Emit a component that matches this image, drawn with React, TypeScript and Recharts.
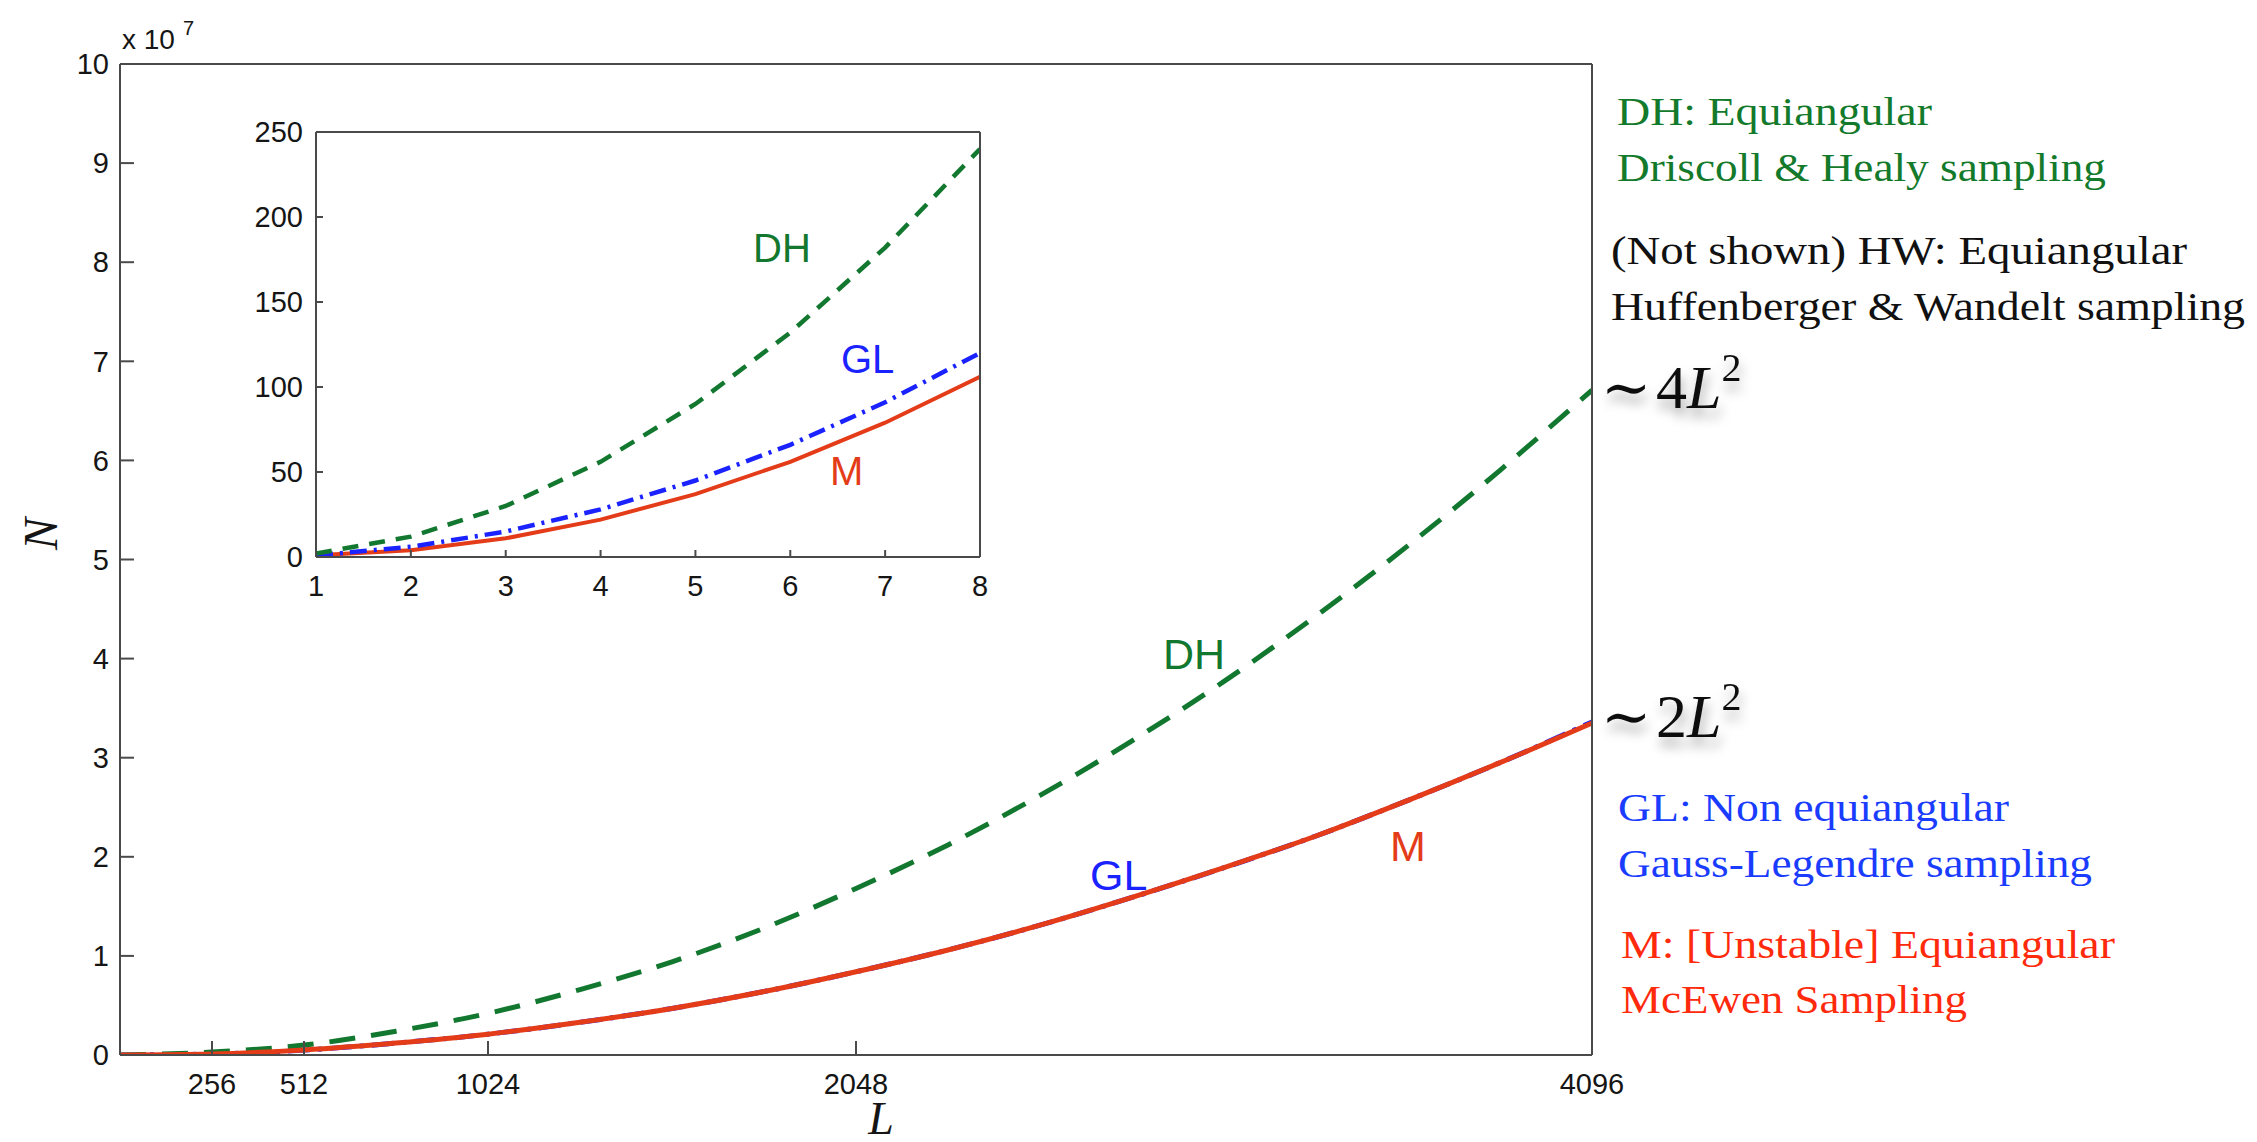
import React from 'react';
import { LineChart, Line, XAxis, YAxis } from 'recharts';

// main plot: number of samples N (units of 1e7) against band-limit L
const L_MAIN = [0, 256, 512, 768, 1024, 1280, 1536, 1792, 2048, 2304, 2560, 2816, 3072, 3328, 3584, 3840, 4096];
const DH_MAIN = [0, 0.03, 0.1, 0.24, 0.42, 0.66, 0.94, 1.28, 1.68, 2.12, 2.62, 3.17, 3.77, 4.43, 5.14, 5.9, 6.71];
const GL_MAIN = [0, 0.01, 0.05, 0.12, 0.21, 0.33, 0.47, 0.64, 0.84, 1.06, 1.31, 1.59, 1.89, 2.21, 2.57, 2.95, 3.36];
const M_MAIN = [0, 0.01, 0.05, 0.12, 0.21, 0.33, 0.47, 0.64, 0.84, 1.06, 1.31, 1.59, 1.89, 2.21, 2.57, 2.95, 3.35];
const MAIN_X_TICKS = [256, 512, 1024, 2048, 4096];
const MAIN_X_TOP_TICKS = [256, 512, 1024, 2048];
const MAIN_Y_TICKS = [0, 1, 2, 3, 4, 5, 6, 7, 8, 9, 10];
const MAIN_Y_RIGHT_TICKS = [1, 2, 3, 4, 5, 6, 7, 8, 9];

// inset: small L
const L_INSET = [1, 2, 3, 4, 5, 6, 7, 8];
const DH_INSET = [2, 12, 30, 56, 90, 132, 182, 240];
const GL_INSET = [1, 6, 15, 28, 45, 66, 91, 120];
const M_INSET = [1, 4, 11, 22, 37, 56, 79, 106];
const INSET_X_TICKS = [1, 2, 3, 4, 5, 6, 7, 8];
const INSET_X_TOP_TICKS = [2, 3, 4, 5, 6, 7];
const INSET_Y_TICKS = [0, 50, 100, 150, 200, 250];
const INSET_Y_RIGHT_TICKS = [50, 100, 150, 200];

const GREEN = '#13782f';
const BLUE = '#1a22ff';
const RED = '#e43c18';
const FRAME = '#4a4a4a';

const sans = 'Liberation Sans, Arial, Helvetica, sans-serif';
const serif = 'Liberation Serif, Times New Roman, serif';

const mainData = L_MAIN.map((L, i) => ({ L, DH: DH_MAIN[i], GL: GL_MAIN[i], M: M_MAIN[i] }));
const insetData = L_INSET.map((L, i) => ({ L, DH: DH_INSET[i], GL: GL_INSET[i], M: M_INSET[i] }));

const axisStroke = { stroke: FRAME, strokeWidth: 2 };
const tickFont = { fontSize: 29, fill: '#151515', fontFamily: sans };

// top/right axes carry only the frame and inward ticks (size 1 so they get drawn)
const MainChart = () => (
  <LineChart width={1700} height={1142} data={mainData} margin={{ top: 63, right: 107, bottom: 47, left: 60 }}>
    <XAxis dataKey="L" type="number" domain={[0, 4096]} ticks={MAIN_X_TICKS} interval={0} height={40}
      tickSize={-14} tickMargin={32} axisLine={axisStroke} tickLine={axisStroke} tick={tickFont} allowDataOverflow />
    <XAxis xAxisId="top" orientation="top" dataKey="L" type="number" domain={[0, 4096]} ticks={MAIN_X_TOP_TICKS} interval={0}
      height={1} tickSize={-14} axisLine={axisStroke} tickLine={axisStroke} tick={false} allowDataOverflow />
    <YAxis type="number" domain={[0, 10]} ticks={MAIN_Y_TICKS} interval={0} width={60}
      tickSize={-14} tickMargin={25} axisLine={axisStroke} tickLine={axisStroke} tick={tickFont} allowDataOverflow />
    <YAxis yAxisId="right" orientation="right" type="number" domain={[0, 10]} ticks={MAIN_Y_RIGHT_TICKS} interval={0}
      width={1} tickSize={-14} axisLine={axisStroke} tickLine={axisStroke} tick={false} allowDataOverflow />
    <Line type="monotone" dataKey="GL" stroke={BLUE} strokeWidth={5} strokeDasharray="22 8 4 8" dot={false} isAnimationActive={false} />
    <Line type="monotone" dataKey="DH" stroke={GREEN} strokeWidth={5} strokeDasharray="26 16" dot={false} isAnimationActive={false} />
    <Line type="monotone" dataKey="M" stroke={RED} strokeWidth={5} dot={false} isAnimationActive={false} />
  </LineChart>
);

const InsetChart = () => (
  <LineChart width={820} height={520} data={insetData} margin={{ top: 31, right: 39, bottom: 23, left: 56 }}>
    <XAxis dataKey="L" type="number" domain={[1, 8]} ticks={INSET_X_TICKS} interval={0} height={40}
      tickSize={-7} tickMargin={25} axisLine={axisStroke} tickLine={axisStroke} tick={tickFont} allowDataOverflow />
    <XAxis xAxisId="top" orientation="top" dataKey="L" type="number" domain={[1, 8]} ticks={INSET_X_TOP_TICKS} interval={0}
      height={1} tickSize={-7} axisLine={axisStroke} tickLine={axisStroke} tick={false} allowDataOverflow />
    <YAxis type="number" domain={[0, 250]} ticks={INSET_Y_TICKS} interval={0} width={60}
      tickSize={-7} tickMargin={20} axisLine={axisStroke} tickLine={axisStroke} tick={tickFont} allowDataOverflow />
    <YAxis yAxisId="right" orientation="right" type="number" domain={[0, 250]} ticks={INSET_Y_RIGHT_TICKS} interval={0}
      width={1} tickSize={-7} axisLine={axisStroke} tickLine={axisStroke} tick={false} allowDataOverflow />
    <Line type="linear" dataKey="M" stroke={RED} strokeWidth={4} dot={false} isAnimationActive={false} />
    <Line type="linear" dataKey="GL" stroke={BLUE} strokeWidth={4.5} strokeDasharray="17 7 3 7" dot={false} isAnimationActive={false} />
    <Line type="linear" dataKey="DH" stroke={GREEN} strokeWidth={4.5} strokeDasharray="16 11" dot={false} isAnimationActive={false} />
  </LineChart>
);

const Note = ({ x, y, w, color, children }: { x: number; y: number; w: number; color: string; children: string }) => (
  <text x={x} y={y} fontFamily={serif} fontSize={41} fill={color} textLength={w} lengthAdjust="spacingAndGlyphs">
    {children}
  </text>
);

const Overlay = () => (
  <svg width={2257} height={1142} style={{ position: 'absolute', left: 0, top: 0, pointerEvents: 'none' }}>
    <defs>
      <filter id="soft" x="-30%" y="-40%" width="160%" height="200%">
        <feDropShadow dx="2" dy="9" stdDeviation="6" floodColor="#000" floodOpacity="0.35" />
      </filter>
    </defs>

    {/* axis decorations */}
    <text x={122} y={49} fontFamily={sans} fontSize={28} fill="#151515">x 10</text>
    <text x={183} y={35} fontFamily={sans} fontSize={20} fill="#151515">7</text>
    <text x={40} y={534} fontFamily={serif} fontStyle="italic" fontSize={48} fill="#151515"
      textAnchor="middle" dominantBaseline="central" transform="rotate(-90 40 534)">N</text>
    <text x={881} y={1134} fontFamily={serif} fontStyle="italic" fontSize={46} fill="#151515" textAnchor="middle">L</text>

    {/* curve labels, main plot */}
    <text x={1163} y={669} fontFamily={sans} fontSize={43} fill={GREEN}>DH</text>
    <text x={1090} y={890} fontFamily={sans} fontSize={43} fill={BLUE}>GL</text>
    <text x={1390} y={861} fontFamily={sans} fontSize={43} fill={RED}>M</text>

    {/* curve labels, inset */}
    <text x={753} y={262} fontFamily={sans} fontSize={40} fill={GREEN}>DH</text>
    <text x={841} y={373} fontFamily={sans} fontSize={40} fill={BLUE}>GL</text>
    <text x={830} y={485} fontFamily={sans} fontSize={40} fill={RED}>M</text>

    {/* notes on the right */}
    <Note x={1617} y={125} w={315} color="#137a2b">DH: Equiangular</Note>
    <Note x={1617} y={181} w={489} color="#137a2b">Driscoll &amp; Healy sampling</Note>
    <Note x={1611} y={264} w={576} color="#111">(Not shown) HW: Equiangular</Note>
    <Note x={1611} y={320} w={634} color="#111">Huffenberger &amp; Wandelt sampling</Note>
    <Note x={1618} y={821} w={391} color="#1a3cff">GL: Non equiangular</Note>
    <Note x={1618} y={877} w={474} color="#1a3cff">Gauss-Legendre sampling</Note>
    <Note x={1621} y={958} w={494} color="#ff2a0c">M: [Unstable] Equiangular</Note>
    <Note x={1621} y={1013} w={346} color="#ff2a0c">McEwen Sampling</Note>

    {/* asymptotic scalings */}
    <g filter="url(#soft)">
      <text y={408} fontFamily={serif} fontSize={62} fill="#111">
        <tspan x={1601} fontFamily="DejaVu Serif" fontSize={60}>∼</tspan>
        <tspan x={1656}>4</tspan>
        <tspan fontStyle="italic">L</tspan>
        <tspan fontSize={40} dy={-27}>2</tspan>
      </text>
      <text y={737} fontFamily={serif} fontSize={62} fill="#111">
        <tspan x={1601} fontFamily="DejaVu Serif" fontSize={60}>∼</tspan>
        <tspan x={1656}>2</tspan>
        <tspan fontStyle="italic">L</tspan>
        <tspan fontSize={40} dy={-27}>2</tspan>
      </text>
    </g>
  </svg>
);

export default function App() {
  return (
    <div style={{ position: 'absolute', left: 0, top: 0, width: 2257, height: 1142, background: '#fff', overflow: 'hidden' }}>
      <div style={{ position: 'absolute', left: 0, top: 0 }}>
        <MainChart />
      </div>
      <div style={{ position: 'absolute', left: 200, top: 100 }}>
        <InsetChart />
      </div>
      <Overlay />
    </div>
  );
}
